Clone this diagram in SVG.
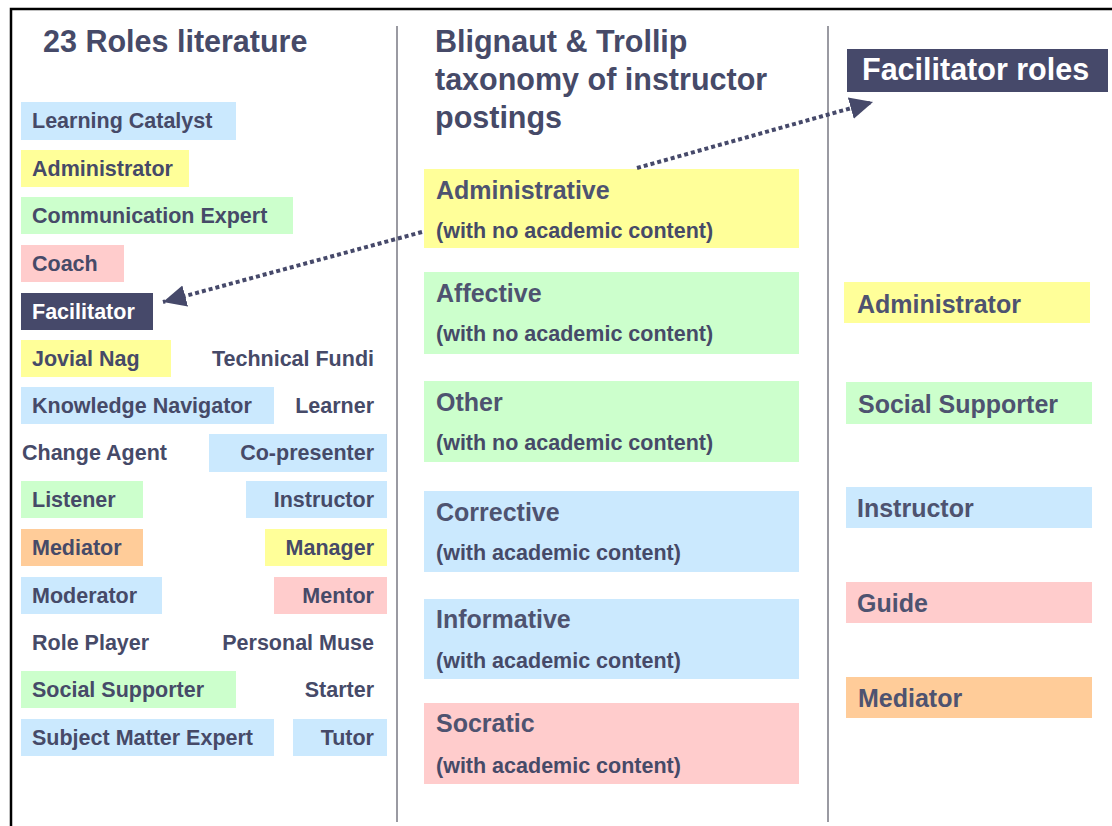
<svg xmlns="http://www.w3.org/2000/svg" width="1112" height="826" viewBox="0 0 1112 826">
<defs>
<style>
.b{fill:#cbe9fe}.y{fill:#ffff99}.g{fill:#ccffcc}.p{fill:#ffcccc}.o{fill:#ffcc99}.d{fill:#46496a}
text{font-family:"Liberation Sans",Arial,sans-serif;fill:#464a68}
.it{font-size:21.5px;font-weight:bold}
.r{text-anchor:end}
.h{font-size:30.5px;font-weight:bold}
.t{font-size:25px;font-weight:bold;fill:#4e5370}
.s{font-size:21.5px;font-weight:bold}
.w{fill:#ffffff}
.div{stroke:#9a9aa2;stroke-width:2}
.conn{stroke:#46496a;stroke-width:4;stroke-dasharray:4 3;fill:none}
</style>
<marker id="ah" markerUnits="userSpaceOnUse" markerWidth="26" markerHeight="24" refX="23" refY="11" orient="auto" viewBox="0 0 26 24">
<path d="M0,0 L23,11 L0,22 z" fill="#46496a"/>
</marker>
</defs>
<rect width="1112" height="826" fill="#ffffff"/>
<g id="frame">
<path d="M11,826 V9 H1112" fill="none" stroke="#000" stroke-width="2.5"/>
<line class="div" x1="397" y1="26" x2="397" y2="822"/>
<line class="div" x1="828" y1="26" x2="828" y2="822"/>
</g>
<g id="headers">
<text class="h" x="43" y="52">23 Roles literature</text>
<text class="h" x="435" y="52">Blignaut &amp; Trollip</text>
<text class="h" x="435" y="90">taxonomy of instructor</text>
<text class="h" x="435" y="128">postings</text>
</g>
<g id="col1">
<g id="n-learning-catalyst"><rect class="b" x="21" y="102" width="215" height="38"/><text class="it" x="32" y="128">Learning Catalyst</text></g>
<g id="n-administrator"><rect class="y" x="21" y="150" width="168" height="37"/><text class="it" x="32" y="176">Administrator</text></g>
<g id="n-communication-expert"><rect class="g" x="21" y="197" width="272" height="37"/><text class="it" x="32" y="223">Communication Expert</text></g>
<g id="n-coach"><rect class="p" x="21" y="245" width="103" height="37"/><text class="it" x="32" y="271">Coach</text></g>
<g id="n-facilitator"><rect class="d" x="21" y="293" width="132" height="37"/><text class="it w" x="32" y="319">Facilitator</text></g>
<g id="n-jovial-nag"><rect class="y" x="21" y="340" width="150" height="37"/><text class="it" x="32" y="366">Jovial Nag</text></g>
<g id="n-technical-fundi"><text class="it r" x="374" y="366">Technical Fundi</text></g>
<g id="n-knowledge-navigator"><rect class="b" x="21" y="387" width="253" height="37"/><text class="it" x="32" y="413">Knowledge Navigator</text></g>
<g id="n-learner"><text class="it r" x="374" y="413">Learner</text></g>
<g id="n-change-agent"><text class="it" x="22" y="460">Change Agent</text></g>
<g id="n-co-presenter"><rect class="b" x="209" y="434" width="178" height="38"/><text class="it r" x="374" y="460">Co-presenter</text></g>
<g id="n-listener"><rect class="g" x="21" y="481" width="122" height="37"/><text class="it" x="32" y="507">Listener</text></g>
<g id="n-instructor"><rect class="b" x="246" y="481" width="141" height="37"/><text class="it r" x="374" y="507">Instructor</text></g>
<g id="n-mediator"><rect class="o" x="21" y="529" width="122" height="37"/><text class="it" x="32" y="555">Mediator</text></g>
<g id="n-manager"><rect class="y" x="265" y="529" width="122" height="37"/><text class="it r" x="374" y="555">Manager</text></g>
<g id="n-moderator"><rect class="b" x="21" y="577" width="141" height="37"/><text class="it" x="32" y="603">Moderator</text></g>
<g id="n-mentor"><rect class="p" x="274" y="577" width="113" height="37"/><text class="it r" x="374" y="603">Mentor</text></g>
<g id="n-role-player"><text class="it" x="32" y="650">Role Player</text></g>
<g id="n-personal-muse"><text class="it r" x="374" y="650">Personal Muse</text></g>
<g id="n-social-supporter"><rect class="g" x="21" y="671" width="215" height="37"/><text class="it" x="32" y="697">Social Supporter</text></g>
<g id="n-starter"><text class="it r" x="374" y="697">Starter</text></g>
<g id="n-subject-matter-expert"><rect class="b" x="21" y="719" width="253" height="37"/><text class="it" x="32" y="745">Subject Matter Expert</text></g>
<g id="n-tutor"><rect class="b" x="293" y="719" width="94" height="37"/><text class="it r" x="374" y="745">Tutor</text></g>
</g>
<g id="col2">
<g id="n-administrative"><rect class="y" x="424" y="169" width="375" height="79"/><text class="t" x="436" y="199">Administrative</text><text class="s" x="436" y="238">(with no academic content)</text></g>
<g id="n-affective"><rect class="g" x="424" y="272" width="375" height="82"/><text class="t" x="436" y="302">Affective</text><text class="s" x="436" y="341">(with no academic content)</text></g>
<g id="n-other"><rect class="g" x="424" y="381" width="375" height="81"/><text class="t" x="436" y="411">Other</text><text class="s" x="436" y="450">(with no academic content)</text></g>
<g id="n-corrective"><rect class="b" x="424" y="491" width="375" height="81"/><text class="t" x="436" y="521">Corrective</text><text class="s" x="436" y="560">(with academic content)</text></g>
<g id="n-informative"><rect class="b" x="424" y="599" width="375" height="80"/><text class="t" x="436" y="628">Informative</text><text class="s" x="436" y="668">(with academic content)</text></g>
<g id="n-socratic"><rect class="p" x="424" y="703" width="375" height="81"/><text class="t" x="436" y="732">Socratic</text><text class="s" x="436" y="773">(with academic content)</text></g>
</g>
<g id="col3">
<g id="n-facilitator-roles"><rect class="d" x="847" y="49" width="261" height="43"/><text class="h w" x="862" y="80">Facilitator roles</text></g>
<g id="n-fr-administrator"><rect class="y" x="844" y="282" width="246" height="41"/><text class="t" x="857" y="313">Administrator</text></g>
<g id="n-fr-social-supporter"><rect class="g" x="846" y="382" width="246" height="42"/><text class="t" x="858" y="413">Social Supporter</text></g>
<g id="n-fr-instructor"><rect class="b" x="846" y="487" width="246" height="41"/><text class="t" x="857" y="517">Instructor</text></g>
<g id="n-fr-guide"><rect class="p" x="846" y="582" width="246" height="41"/><text class="t" x="857" y="612">Guide</text></g>
<g id="n-fr-mediator"><rect class="o" x="846" y="677" width="246" height="41"/><text class="t" x="858" y="707">Mediator</text></g>
</g>
<g id="connectors">
<path class="conn" d="M422,232 L163,302" marker-end="url(#ah)"/>
<path class="conn" d="M637,168 L873,102" marker-end="url(#ah)"/>
</g>
</svg>
